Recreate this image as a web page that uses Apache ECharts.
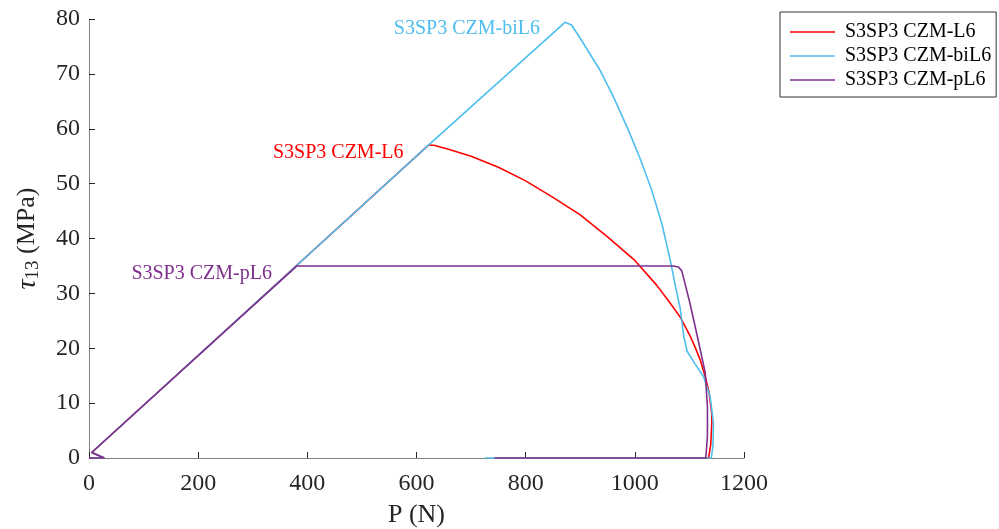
<!DOCTYPE html>
<html>
<head>
<meta charset="utf-8">
<script src="https://cdn.jsdelivr.net/npm/echarts@6/dist/echarts.min.js"></script>
<style>
html,body{margin:0;padding:0;background:#fff;}
#chart{width:999px;height:529px;}
</style>
</head>
<body>
<div id="chart"></div>
<script>
// Series names
var seriesNames = ['S3SP3 CZM-L6', 'S3SP3 CZM-biL6', 'S3SP3 CZM-pL6'];

// S3SP3 CZM-L6 (red)
var redP   = [0, 28, 5, 622, 632, 660, 700, 750, 800, 850, 900, 950, 1000, 1040, 1070, 1083, 1100, 1110, 1120, 1129, 1136, 1141, 1141, 1139, 1135, 741];
var redTau = [0, 0, 1, 57, 57, 56.2, 55, 53, 50.5, 47.5, 44.3, 40.3, 36, 31.5, 27.5, 25.7, 22.5, 20.3, 17.8, 14.8, 12, 8, 6.3, 2.4, 0, 0];

// S3SP3 CZM-biL6 (blue)
var blueP   = [0, 28, 5, 622, 872, 884, 900, 936, 960, 988, 1010, 1031, 1050, 1065, 1075, 1083, 1090, 1096, 1110, 1126, 1138, 1144, 1143, 1140, 725];
var blueTau = [0, 0, 1, 57, 79.4, 78.9, 76.5, 70.7, 66, 59.8, 54.5, 48.8, 42.5, 36, 31, 27.3, 22, 19.4, 17.2, 14.8, 11.2, 6.3, 2.1, 0, 0];

// S3SP3 CZM-pL6 (purple)
var purpleP   = [0, 28, 5, 381, 390, 700, 1000, 1070, 1080, 1086, 1101, 1116, 1129, 1133, 1133, 1130, 744];
var purpleTau = [0, 0, 1, 35, 35, 35, 35, 35, 34.8, 34.1, 28.2, 21.5, 15.5, 9.4, 3.9, 0, 0];

// Annotation anchor points (data units)
var labelAnchors = [[622, 57], [872, 79.4], [381, 35]];

// Axis ticks
var xTicks = [0, 200, 400, 600, 800, 1000, 1200];
var yTicks = [0, 10, 20, 30, 40, 50, 60, 70, 80];

var colors = ['#FF0000', '#4DBEEE', '#7E2F8E'];
var labelOffsets = [[0, 8], [0, 6], [0, 8]];
var FONT = "'Liberation Serif', 'Times New Roman', serif";

function zip(a, b) { return a.map(function (v, i) { return [v, b[i]]; }); }
var datasets = [zip(redP, redTau), zip(blueP, blueTau), zip(purpleP, purpleTau)];

var chart = echarts.init(document.getElementById('chart'), null, {renderer: 'canvas'});

var series = datasets.map(function (d, i) {
  return {
    name: seriesNames[i],
    type: 'line',
    data: d,
    symbol: 'none',
    showSymbol: false,
    smooth: false,
    animation: false,
    lineStyle: {color: colors[i], width: 1.6},
    itemStyle: {color: colors[i]},
    markPoint: {
      symbol: 'circle',
      symbolSize: 0,
      animation: false,
      data: [{
        coord: labelAnchors[i],
        label: {
          show: true,
          position: 'left',
          distance: 25,
          offset: labelOffsets[i],
          formatter: seriesNames[i],
          color: colors[i],
          fontFamily: FONT,
          fontSize: 20
        }
      }]
    }
  };
});

chart.setOption({
  backgroundColor: '#ffffff',
  animation: false,
  grid: {left: 89, right: 255, top: 19, bottom: 71, containLabel: false, outerBoundsMode: 'none'},
  legend: {
    orient: 'vertical',
    left: 780,
    top: 12,
    padding: [10, 5, 7, 10],
    itemWidth: 45,
    itemHeight: 14,
    itemGap: 4,
    icon: 'path://M0,0L45,0L45,1.6L0,1.6Z',
    borderColor: '#333',
    borderWidth: 1,
    backgroundColor: '#fff',
    textStyle: {fontFamily: FONT, fontSize: 20, lineHeight: 20, color: '#000', padding: [0, 0, 0, 5]},
    data: seriesNames
  },
  xAxis: {
    type: 'value',
    min: xTicks[0],
    max: xTicks[xTicks.length - 1],
    interval: 200,
    name: 'P (N)',
    nameLocation: 'middle',
    nameGap: 44,
    nameTextStyle: {fontFamily: FONT, fontSize: 26, color: '#262626'},
    axisLine: {show: true, lineStyle: {color: '#808080', width: 1}},
    axisTick: {show: true, inside: true, length: 6, lineStyle: {color: '#262626'}},
    axisLabel: {fontFamily: FONT, fontSize: 24, color: '#262626', margin: 14,
      formatter: function (v) { return String(v); }},
    splitLine: {show: false}
  },
  yAxis: {
    type: 'value',
    min: yTicks[0],
    max: yTicks[yTicks.length - 1],
    interval: 10,
    name: '{t|τ}{s|13} {u|(MPa)}',
    nameLocation: 'middle',
    nameGap: 46,
    nameRotate: 90,
    nameTextStyle: {
      fontFamily: FONT, fontSize: 26, color: '#262626',
      rich: {
        t: {fontFamily: FONT, fontSize: 28, fontStyle: 'italic', color: '#262626'},
        u: {fontFamily: FONT, fontSize: 26, color: '#262626'},
        s: {fontFamily: FONT, fontSize: 19, color: '#262626', verticalAlign: 'bottom', padding: [12, 0, 0, 0]}
      }
    },
    axisLine: {show: true, lineStyle: {color: '#808080', width: 1}},
    axisTick: {show: true, inside: true, length: 6, lineStyle: {color: '#262626'}},
    axisLabel: {fontFamily: FONT, fontSize: 24, color: '#262626', margin: 9,
      formatter: function (v) { return String(v); }},
    splitLine: {show: false}
  },
  series: series
});
</script>
</body>
</html>
